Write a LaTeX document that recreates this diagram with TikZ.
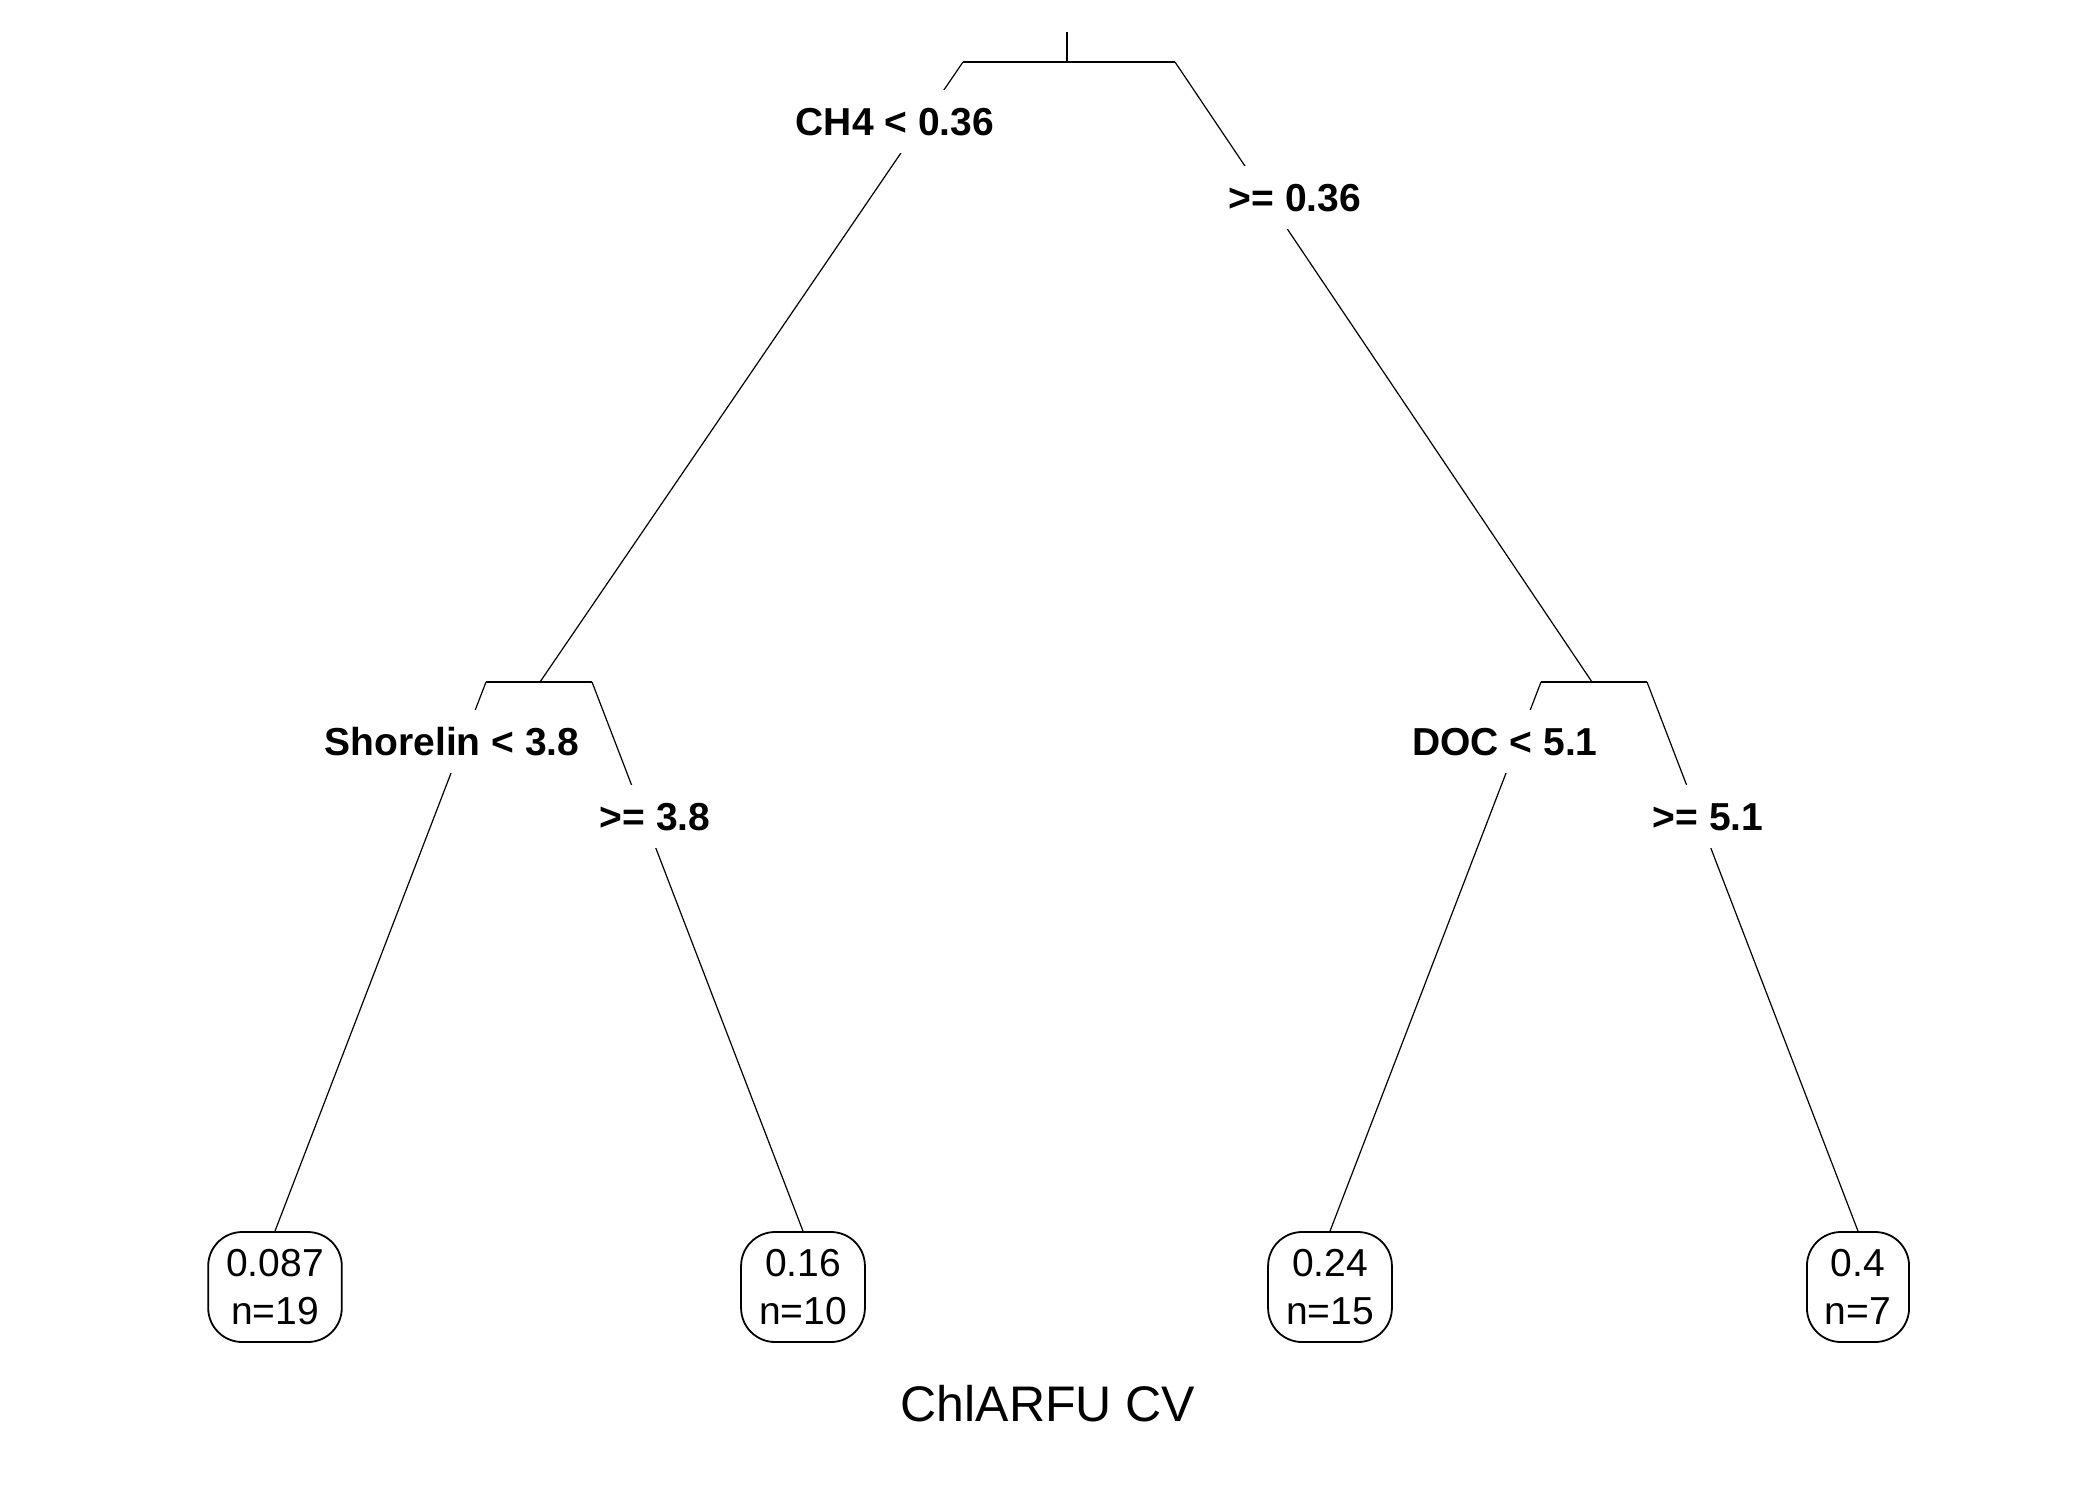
\documentclass[tikz,border=0pt]{standalone}
\usepackage{fontspec}
\setmainfont{Liberation Sans}
\begin{document}
\begin{tikzpicture}[x=0.5pt,y=-0.5pt,
  branch/.style={draw,line width=0.6pt},
  bar/.style={draw,line width=0.9pt},
  split/.style={fill=white,inner xsep=2pt,inner ysep=0pt,minimum height=31.5pt,
    text height=14pt,text depth=0pt,font=\fontsize{19.5}{24}\selectfont\bfseries},
  leaf/.style={draw,line width=0.9pt,rounded corners=17pt,align=center,
    inner xsep=9pt,minimum height=55pt,font=\fontsize{19.5}{24}\selectfont}]
\useasboundingbox (0,0) rectangle (2100,1500);

\coordinate (top) at (1067,32);
\coordinate (root) at (1067,62);
\coordinate (rootL) at (963,62);
\coordinate (rootR) at (1175,62);
\coordinate (n2) at (540,682);
\coordinate (n2L) at (486,682);
\coordinate (n2R) at (592,682);
\coordinate (n3) at (1592,682);
\coordinate (n3L) at (1541,682);
\coordinate (n3R) at (1647,682);

\node[leaf] (l1) at (275,1287) {0.087\\n=19};
\node[leaf] (l2) at (803,1287) {0.16\\n=10};
\node[leaf] (l3) at (1330,1287) {0.24\\n=15};
\node[leaf] (l4) at (1858,1287) {0.4\\n=7};

\path[bar] (top) -- (root);
\path[bar] (rootL) -- (rootR);
\path[bar] (n2L) -- (n2R);
\path[bar] (n3L) -- (n3R);

\path[branch] (rootL) -- (n2);
\path[branch] (rootR) -- (n3);
\path[branch] (n2L) -- (l1.north);
\path[branch] (n2R) -- (l2.north);
\path[branch] (n3L) -- (l3.north);
\path[branch] (n3R) -- (l4.north);

\node[split] (s1) at (895,121.5) {CH4 < 0.36};
\node[split] (s1r) at (1295,197) {>= 0.36};
\node[split] (s2) at (452,741) {Shorelin < 3.8};
\node[split] (s2r) at (655,816) {>= 3.8};
\node[split] (s3) at (1505,741) {DOC < 5.1};
\node[split] (s3r) at (1708,816) {>= 5.1};

\node[font=\fontsize{25}{30}\selectfont] (title) at (1048,1404) {ChlARFU CV};

\end{tikzpicture}
\end{document}
